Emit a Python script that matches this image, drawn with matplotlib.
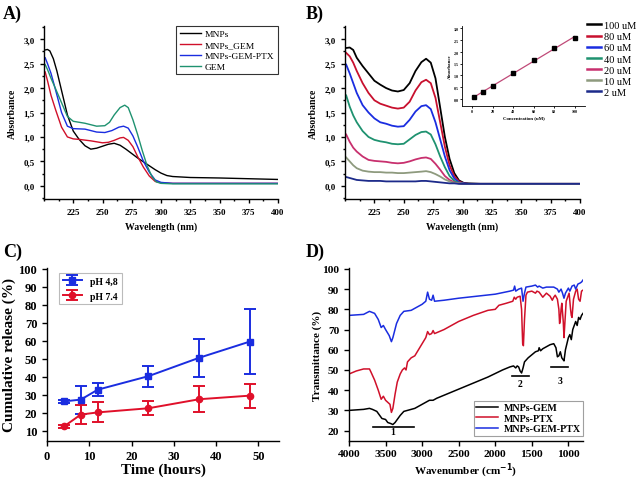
import numpy as np
import matplotlib
matplotlib.use("Agg")
import matplotlib.pyplot as plt
from matplotlib.ticker import MultipleLocator, FuncFormatter

plt.rcParams['font.family'] = 'Liberation Serif'
plt.rcParams['font.weight'] = 'bold'
plt.rcParams['axes.linewidth'] = 1.0

# ---------------- Panel A data: UV-Vis of particles ----------------
a_mnps_x = [201, 203, 205, 208, 211, 215, 220, 225, 230, 235, 240, 245, 250, 255, 260, 265, 270, 275, 280, 285, 290, 295, 300, 305, 310, 325, 350, 400]
a_mnps_y = [2.78, 2.79, 2.76, 2.6, 2.35, 1.95, 1.45, 1.12, 0.95, 0.82, 0.75, 0.77, 0.81, 0.85, 0.87, 0.83, 0.75, 0.66, 0.57, 0.49, 0.41, 0.33, 0.26, 0.21, 0.19, 0.17, 0.16, 0.13]
a_gem_np_x = [201, 203, 206, 210, 215, 220, 225, 230, 240, 250, 255, 260, 265, 268, 272, 276, 280, 285, 290, 295, 300, 310, 400]
a_gem_np_y = [2.33, 2.15, 1.85, 1.55, 1.2, 1.0, 0.96, 0.95, 0.92, 0.88, 0.89, 0.93, 0.98, 0.99, 0.93, 0.8, 0.6, 0.38, 0.2, 0.09, 0.06, 0.05, 0.05]
a_gem_ptx_x = [201, 203, 206, 210, 215, 220, 225, 235, 245, 252, 258, 264, 268, 272, 276, 280, 285, 290, 295, 300, 310, 400]
a_gem_ptx_y = [2.62, 2.5, 2.3, 1.95, 1.5, 1.22, 1.17, 1.16, 1.1, 1.09, 1.13, 1.2, 1.22, 1.18, 1.02, 0.8, 0.5, 0.28, 0.12, 0.07, 0.05, 0.05]
a_gem_x = [201, 203, 206, 210, 215, 220, 225, 235, 245, 252, 256, 260, 265, 269, 272, 276, 280, 284, 288, 292, 296, 300, 310, 400]
a_gem_y = [2.48, 2.38, 2.2, 1.98, 1.7, 1.42, 1.32, 1.28, 1.22, 1.23, 1.3, 1.45, 1.6, 1.65, 1.6, 1.35, 1.05, 0.72, 0.42, 0.2, 0.08, 0.05, 0.04, 0.04]

a_labels = ["MNPs", "MNPs_GEM", "MNPs-GEM-PTX", "GEM"]
a_colors = ["black", "#d0102a", "#1a2de0", "#1f9270"]

# ---------------- Panel B data: GEM calibration ----------------
b_x = [201, 204, 207, 210, 215, 220, 225, 230, 235, 240, 245, 250, 255, 260, 265, 269, 273, 277, 281, 285, 289, 293, 297, 301, 305, 315, 400]
b_100 = [2.82, 2.83, 2.78, 2.62, 2.45, 2.3, 2.15, 2.07, 2.0, 1.95, 1.93, 1.96, 2.1, 2.35, 2.53, 2.6, 2.52, 2.2, 1.6, 1.0, 0.55, 0.26, 0.11, 0.06, 0.05, 0.04, 0.04]
b_80 = [2.72, 2.65, 2.52, 2.35, 2.1, 1.9, 1.75, 1.68, 1.64, 1.6, 1.58, 1.6, 1.72, 1.95, 2.12, 2.17, 2.1, 1.8, 1.3, 0.8, 0.42, 0.2, 0.09, 0.05, 0.04, 0.04, 0.04]
b_60 = [2.48, 2.3, 2.1, 1.9, 1.65, 1.5, 1.38, 1.3, 1.27, 1.23, 1.21, 1.22, 1.35, 1.52, 1.63, 1.65, 1.57, 1.3, 0.95, 0.6, 0.32, 0.15, 0.07, 0.05, 0.04, 0.04, 0.04]
b_40 = [1.85, 1.62, 1.44, 1.3, 1.12, 1.0, 0.94, 0.91, 0.89, 0.86, 0.85, 0.86, 0.95, 1.04, 1.1, 1.11, 1.05, 0.85, 0.6, 0.38, 0.2, 0.1, 0.06, 0.04, 0.04, 0.04, 0.04]
b_20 = [1.05, 0.9, 0.78, 0.7, 0.6, 0.53, 0.51, 0.5, 0.49, 0.47, 0.46, 0.47, 0.5, 0.54, 0.57, 0.58, 0.55, 0.45, 0.33, 0.2, 0.12, 0.07, 0.05, 0.04, 0.04, 0.04, 0.04]
b_10 = [0.58, 0.5, 0.42, 0.36, 0.31, 0.29, 0.28, 0.28, 0.27, 0.27, 0.26, 0.26, 0.27, 0.28, 0.29, 0.3, 0.28, 0.24, 0.19, 0.13, 0.09, 0.06, 0.05, 0.04, 0.04, 0.04, 0.04]
b_2 = [0.18, 0.16, 0.14, 0.12, 0.11, 0.1, 0.1, 0.1, 0.09, 0.09, 0.09, 0.09, 0.09, 0.09, 0.1, 0.1, 0.09, 0.08, 0.07, 0.06, 0.05, 0.05, 0.04, 0.04, 0.04, 0.04, 0.04]
b_labels = ["100 uM", "80 uM", "60 uM", "40 uM", "20 uM", "10 uM", "2 uM"]
b_colors = ["black", "#c8102e", "#1a2de0", "#1f9270", "#c8306e", "#8e9a7e", "#1c2a8a"]

conc = [2, 10, 20, 40, 60, 80, 100]
conc_abs = [0.08, 0.28, 0.55, 1.1, 1.64, 2.17, 2.6]

# ---------------- Panel C data: release ----------------
t_h = [4, 8, 12, 24, 36, 48]
rel_48 = [26.3, 27.3, 32.8, 40.3, 50.5, 59.5]
err_48 = [0.8, 7.8, 3.7, 5.8, 10.5, 18.2]
rel_74 = [12.4, 19.0, 20.2, 22.5, 27.5, 29.5]
err_74 = [0.8, 5.5, 5.6, 4.0, 7.3, 6.6]

# ---------------- Panel D data: FTIR ----------------
ir_gem_x = [4000, 3800, 3720, 3680, 3620, 3580, 3550, 3500, 3470, 3430, 3400, 3370, 3330, 3300, 3250, 3200, 3150, 3100, 3050, 3000, 2950, 2900, 2850, 2800, 2700, 2500, 2300, 2100, 1900, 1800, 1750, 1720, 1700, 1680, 1660, 1640, 1620, 1600, 1550, 1500, 1450, 1410, 1400, 1380, 1350, 1300, 1250, 1200, 1170, 1150, 1130, 1110, 1090, 1070, 1060, 1040, 1020, 1000, 980, 960, 940, 920, 900, 880, 860, 840, 820, 800]
ir_gem_y = [30, 30.5, 31, 30.5, 29.5, 27.5, 26, 25.5, 24, 23.5, 23, 24, 26, 27.5, 29.5, 30, 30.5, 31, 32, 33, 34, 35, 35, 36, 37.5, 40.5, 43.5, 46.5, 50, 51.5, 52, 51, 52, 51.5, 49.5, 48.5, 51, 54, 56, 57.5, 59, 59.5, 61, 59.5, 60.5, 61.5, 62.5, 63, 61, 56.5, 57, 59, 56, 55, 54.5, 60, 63, 66, 67.5, 65, 70, 72, 74, 72, 76, 75, 77, 78]
ir_ptx_x = [4000, 3900, 3800, 3720, 3700, 3650, 3600, 3560, 3530, 3500, 3470, 3440, 3420, 3400, 3370, 3340, 3300, 3270, 3240, 3220, 3200, 3150, 3100, 3050, 3000, 2950, 2925, 2900, 2870, 2850, 2830, 2700, 2500, 2300, 2100, 2000, 1950, 1850, 1760, 1740, 1720, 1700, 1660, 1640, 1625, 1615, 1600, 1580, 1560, 1500, 1450, 1430, 1400, 1350, 1300, 1250, 1220, 1200, 1180, 1150, 1130, 1120, 1110, 1100, 1090, 1070, 1060, 1050, 1030, 1010, 990, 970, 960, 950, 930, 900, 880, 860, 840, 820, 800]
ir_ptx_y = [48, 49.5, 50.5, 50.5, 49, 45, 40, 35.5, 37, 35, 34, 33, 29, 31, 38, 44, 48, 50, 51, 50, 54, 56, 57, 60, 63, 66, 69, 67.5, 68, 69.5, 68, 70, 74, 77, 79.5, 80, 82, 83, 84, 86, 85, 86, 86.5, 80, 63, 62, 75, 87, 88.5, 89, 88, 89, 88.5, 86, 88, 86.5, 84.5, 86, 87, 85, 80, 73, 75, 80, 83, 74, 66, 72, 84, 86, 88, 80, 77, 76, 85, 89, 90, 85, 84, 89, 89.5]
ir_both_x = [4000, 3800, 3720, 3650, 3600, 3560, 3530, 3500, 3450, 3420, 3400, 3350, 3300, 3250, 3150, 3100, 3000, 2950, 2925, 2900, 2870, 2850, 2830, 2700, 2500, 2000, 1800, 1750, 1735, 1720, 1680, 1640, 1620, 1600, 1580, 1500, 1450, 1420, 1400, 1350, 1300, 1200, 1150, 1130, 1100, 1080, 1060, 1040, 1000, 980, 950, 920, 900, 870, 840, 820, 800]
ir_both_y = [77, 77.5, 79, 78, 75, 71, 72, 70, 67, 64, 66, 73, 77, 79, 79.5, 80.5, 82.5, 84, 88.5, 85, 84.5, 87, 84, 84.5, 85.5, 87.5, 89, 89.5, 91.5, 89, 90, 90.5, 84, 88, 91, 91.5, 92, 91, 91.5, 90.5, 91, 91, 90, 88.5, 90, 88, 85.5, 88, 90.5, 89, 91.5, 92, 90, 92.5, 93, 93.5, 94.5]
ir_labels = ["MNPs-GEM", "MNPs-PTX", "MNPs-GEM-PTX"]
ir_colors = ["black", "#d0102a", "#1a2de0"]

W, H = 642, 481
fig = plt.figure(figsize=(W / 100, H / 100), dpi=100)


def px_axes(left, top, right, bottom):
    return fig.add_axes([left / W, 1 - bottom / H, (right - left) / W, (bottom - top) / H])


def comma(v, pos):
    return f"{v:.1f}".replace(".", ",")


def style(ax, size, major=3, minor=1.5):
    for s in ["top", "right"]:
        ax.spines[s].set_visible(False)
    ax.tick_params(which="major", direction="out", length=major, width=1, labelsize=size)
    ax.tick_params(which="minor", direction="out", length=minor, width=1)
    for lab in ax.get_xticklabels() + ax.get_yticklabels():
        lab.set_fontweight("bold")


# ---------- A ----------
axA = px_axes(44, 27, 278, 200)
for xs, ys, lab, c in zip([a_mnps_x, a_gem_np_x, a_gem_ptx_x, a_gem_x],
                          [a_mnps_y, a_gem_np_y, a_gem_ptx_y, a_gem_y], a_labels, a_colors):
    axA.plot(xs, ys, color=c, lw=1.0, label=lab)
axA.set_xlim(200, 400)
axA.set_ylim(-0.27, 3.27)
axA.set_xticks([225, 250, 275, 300, 325, 350, 375, 400])
axA.xaxis.set_minor_locator(MultipleLocator(12.5))
axA.yaxis.set_major_locator(MultipleLocator(0.5))
axA.yaxis.set_minor_locator(MultipleLocator(0.25))
axA.yaxis.set_major_formatter(FuncFormatter(comma))
style(axA, 6.5)
axA.set_xlabel("Wavelength (nm)", fontsize=7, fontweight="bold", labelpad=4)
axA.set_ylabel("Absorbance", fontsize=7, fontweight="bold", labelpad=5)
legA = axA.legend(loc="upper right", bbox_to_anchor=(1.0, 1.0), frameon=True, borderaxespad=0,
                  fancybox=False, edgecolor="black", handlelength=2.3, handletextpad=0.4,
                  borderpad=0.35, labelspacing=0.25,
                  prop={"family": "Liberation Serif", "weight": "normal", "size": 6.8})
legA.get_frame().set_linewidth(0.8)

# ---------- B ----------
axB = px_axes(345, 27, 580, 200)
for ys, lab, c in zip([b_100, b_80, b_60, b_40, b_20, b_10, b_2], b_labels, b_colors):
    axB.plot(b_x, ys, color=c, lw=1.3, label=lab)
axB.set_xlim(200, 400)
axB.set_ylim(-0.27, 3.27)
axB.set_xticks([225, 250, 275, 300, 325, 350, 375, 400])
axB.xaxis.set_minor_locator(MultipleLocator(12.5))
axB.yaxis.set_major_locator(MultipleLocator(0.5))
axB.yaxis.set_minor_locator(MultipleLocator(0.25))
axB.yaxis.set_major_formatter(FuncFormatter(comma))
style(axB, 6.5)
axB.set_xlabel("Wavelength (nm)", fontsize=7, fontweight="bold", labelpad=4)
axB.set_ylabel("Absorbance", fontsize=7, fontweight="bold", labelpad=5)
legB = axB.legend(loc="upper left", bbox_to_anchor=(1.03, 1.03), frameon=False, handlelength=1.3,
                  handletextpad=0.3, labelspacing=0.18, borderaxespad=0, borderpad=0,
                  prop={"family": "Liberation Serif", "weight": "normal", "size": 7.5})
for ln in legB.get_lines():
    ln.set_linewidth(1.8)

# inset calibration
axI = px_axes(462, 27, 585, 107)
fit = np.polyfit(conc, conc_abs, 1)
xf = np.array([min(conc), max(conc)])
axI.plot(xf, np.polyval(fit, xf), color="#c04a78", lw=0.9)
axI.plot(conc, conc_abs, "s", color="black", ms=2.2)
axI.set_xlim(-10, 110)
axI.set_ylim(-0.3, 3.1)
axI.set_xticks([0, 20, 40, 60, 80, 100])
axI.yaxis.set_major_locator(MultipleLocator(0.5))
axI.yaxis.set_major_formatter(FuncFormatter(comma))
style(axI, 3, major=1.5, minor=1)
for sp in axI.spines.values():
    sp.set_linewidth(0.6)
axI.tick_params(width=0.6, pad=1)
axI.set_xlabel("Concentration (uM)", fontsize=3.5, fontweight="bold", labelpad=1)
axI.set_ylabel("Absorbance", fontsize=3.5, fontweight="bold", labelpad=1)

# ---------- C ----------
axC = px_axes(47, 269, 279.5, 441.7)
axC.errorbar(t_h, rel_48, yerr=err_48, color="#1a2de0", marker="s", ms=4.5, lw=1.4,
             capsize=4, capthick=1.4, elinewidth=1.4, label="pH 4,8")
axC.errorbar(t_h, rel_74, yerr=err_74, color="#e0102a", marker="o", ms=4.5, lw=1.4,
             capsize=4, capthick=1.4, elinewidth=1.4, label="pH 7.4")
axC.set_xlim(0, 55)
axC.set_ylim(4.5, 100.3)
axC.set_xticks([0, 10, 20, 30, 40, 50])
axC.set_yticks(range(10, 101, 10))
style(axC, 9, major=3.5)
axC.set_xlabel("Time (hours)", fontsize=11, fontweight="bold", va="center")
axC.xaxis.set_label_coords(0.5, -0.165)
axC.set_ylabel("Cumulative release (%)", fontsize=11, fontweight="bold", labelpad=2)
legC = axC.legend(loc="upper left", bbox_to_anchor=(0.03, 1.0), frameon=True, fancybox=False,
                  edgecolor="#aaaaaa", handlelength=2.0, borderpad=0.4, labelspacing=0.6,
                  prop={"family": "Liberation Serif", "weight": "bold", "size": 7})
legC.get_frame().set_linewidth(0.8)

# ---------- D ----------
axD = px_axes(349, 269.3, 583, 441.7)
for xs, ys, lab, c in zip([ir_gem_x, ir_ptx_x, ir_both_x], [ir_gem_y, ir_ptx_y, ir_both_y],
                          ir_labels, ir_colors):
    axD.plot(xs, ys, color=c, lw=1.1, label=lab)
axD.set_xlim(4000, 800)
axD.set_ylim(15, 100.3)
axD.set_xticks([4000, 3500, 3000, 2500, 2000, 1500, 1000])
axD.set_yticks(range(20, 101, 10))
style(axD, 8.2, major=3.5)
axD.tick_params(axis="x", pad=2.5)
axD.set_xlabel("Wavenumber (cm$^{\\mathbf{-1}}$)", fontsize=8, fontweight="bold", va="bottom")
axD.xaxis.set_label_coords(0.5, -0.225)
axD.set_ylabel("Transmittance (%)", fontsize=8, fontweight="bold", labelpad=0)
# band markers
for x0, x1, yb, txt, xt, yt in [(3670, 3110, 22.0, "1", 3400, 19.5),
                                (1767, 1534, 47.1, "2", 1660, 43.3),
                                (1237, 1000, 51.4, "3", 1114, 44.6)]:
    axD.plot([x0, x1], [yb, yb], color="black", lw=1.2)
    axD.text(xt, yt, txt, ha="center", va="center", fontsize=7, fontweight="bold")
legD = axD.legend(loc="lower right", bbox_to_anchor=(1.0, 0.03), frameon=True, fancybox=False,
                  edgecolor="#888888", handlelength=2.2, handletextpad=0.5, borderpad=0.25,
                  labelspacing=0.15, borderaxespad=0,
                  prop={"family": "Liberation Serif", "weight": "bold", "size": 7.2})
legD.get_frame().set_linewidth(0.8)

# panel letters
for txt, x, y in [("A)", 3, 14), ("B)", 306, 14), ("C)", 3, 252), ("D)", 306, 252)]:
    fig.text(x / W, 1 - y / H, txt, fontsize=13, fontweight="bold", va="center", ha="left")

fig.savefig("out.png", dpi=100)
